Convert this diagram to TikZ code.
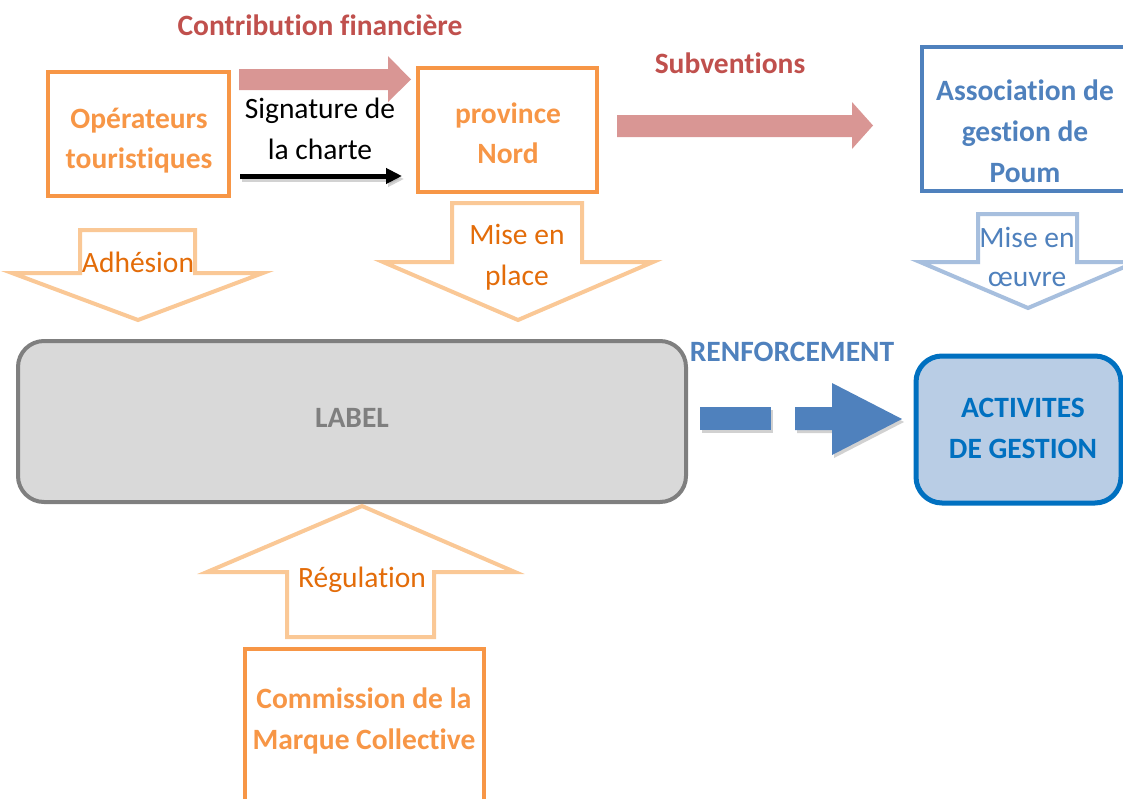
\documentclass[tikz,border=0pt]{standalone}
\usepackage{fontspec}
\setmainfont{Carlito}[Ligatures=NoCommon]
\usetikzlibrary{arrows.meta}
\definecolor{orgbox}{HTML}{F79646}
\definecolor{orglight}{HTML}{FAC896}
\definecolor{orgtext}{HTML}{E36C09}
\definecolor{pinkarr}{HTML}{D99694}
\definecolor{redtext}{HTML}{C0504D}
\definecolor{bluetext}{HTML}{4F81BD}
\definecolor{bluelight}{HTML}{A7BFDE}
\definecolor{darkblue}{HTML}{0070C0}
\definecolor{actfill}{HTML}{B9CDE5}
\definecolor{labfill}{HTML}{D9D9D9}
\definecolor{labline}{HTML}{7F7F7F}
\begin{document}
\begin{tikzpicture}[x=1pt,y=-1pt,
  txt/.style={font=\fontsize{29.5}{34}\selectfont, inner sep=0pt, anchor=base},
  btxt/.style={txt, font=\fontsize{29.5}{34}\selectfont\bfseries},
  obox/.style={draw=orgbox, line width=4pt, inner sep=0pt},
  bigarrow/.style={draw=orglight, line width=4pt, line join=miter, fill=white},
  pinkarrow/.style={fill=pinkarr, draw=none},
  bluearrow/.style={fill=bluetext, draw=none},
  shadowed/.style={fill=black, opacity=0.18, draw=none}
]
\useasboundingbox (0,0) rectangle (1123,798);
\clip (0,0) rectangle (1123,798);

% ---- boxes
\node[obox, minimum width=181pt, minimum height=124pt] (op) at (138.5,134) {};
\node[obox, minimum width=179pt, minimum height=124pt] (prov) at (507.5,130) {};
\node[draw=bluetext, line width=4pt, inner sep=0pt, minimum width=230pt, minimum height=144pt] (assoc) at (1037,119) {};
\node[draw=labline, fill=labfill, line width=4pt, rounded corners=26pt, inner sep=0pt, minimum width=668pt, minimum height=161pt] (label) at (352,421.5) {};
\node[draw=darkblue, fill=actfill, line width=5pt, rounded corners=26pt, inner sep=0pt, minimum width=205pt, minimum height=147pt] (act) at (1018.5,429.5) {};
\node[obox, minimum width=239pt, minimum height=200pt] (comm) at (364.5,749) {};

% ---- top arrows
\coordinate (p1s) at (239,79.5);
\draw[pinkarrow] (p1s) ++(0,-10.5) -- (388,69) -- (388,56) -- (411,79.5) -- (388,102) -- (388,90) -- (239,90) -- cycle;
\coordinate (bks) at (240,176);
\coordinate (bke) at (402,176);
\draw[line width=5pt, black!35, opacity=0.5, -{Triangle[length=16pt,width=15pt]}] ([shift={(2,3)}]bks) -- ([shift={(2,3)}]bke);
\draw[line width=5pt, -{Triangle[length=16pt,width=15pt]}] (bks) -- (bke);
\draw[pinkarrow] (617,115) -- (852,115) -- (852,102) -- (873,125.5) -- (852,149) -- (852,137) -- (617,137) -- cycle;

% ---- big hollow arrows
\draw[bigarrow] (80,230) -- (195,230) -- (195,273) -- (263,273) -- (138,320) -- (12,273) -- (80,273) -- cycle;
\draw[bigarrow] (452,203) -- (582,203) -- (582,262) -- (653,262) -- (518,320) -- (383,262) -- (452,262) -- cycle;
\draw[bigarrow, draw=bluelight] (978,214) -- (1077,214) -- (1077,262) -- (1136,262) -- (1028,308) -- (920,262) -- (978,262) -- cycle;
\draw[bigarrow] (287,637) -- (434,637) -- (434,572) -- (515,572) -- (362,506) -- (207,572) -- (287,572) -- cycle;

% ---- dashed block arrow (renforcement)
\begin{scope}[shift={(2,3)}]
\fill[shadowed] (700,407) rectangle (771,430);
\fill[shadowed] (795,407) -- (832,407) -- (832,383) -- (902,419) -- (832,455) -- (832,430) -- (795,430) -- cycle;
\end{scope}
\fill[bluearrow] (700,407) rectangle (771,430);
\fill[bluearrow] (795,407) -- (832,407) -- (832,383) -- (902,419) -- (832,455) -- (832,430) -- (795,430) -- cycle;

% ---- texts
\node[btxt, text=redtext] (t1) at (320,35) {Contribution financière};
\node[txt] (t2) at (320,118) {Signature de};
\node[txt] (t3) at (320,159) {la charte};
\node[btxt, text=orgbox] (t4) at (139,128) {Opérateurs};
\node[btxt, text=orgbox] (t5) at (139,168) {touristiques};
\node[btxt, text=orgbox] (t6) at (508,123) {province};
\node[btxt, text=orgbox] (t7) at (508,163) {Nord};
\node[btxt, text=redtext] (t8) at (730,73) {Subventions};
\node[btxt, text=bluetext] (t9) at (1025,100) {Association de};
\node[btxt, text=bluetext] (t10) at (1025,141) {gestion de};
\node[btxt, text=bluetext] (t11) at (1025,182) {Poum};
\node[txt, text=bluetext] (t12) at (1027,247) {Mise en};
\node[txt, text=bluetext] (t13) at (1027,286) {œuvre};
\node[txt, text=orgtext] (t14) at (138,272) {Adhésion};
\node[txt, text=orgtext] (t15) at (517,244) {Mise en};
\node[txt, text=orgtext] (t16) at (517,285) {place};
\node[btxt, text=labline] (t17) at (352,427) {LABEL};
\node[btxt, text=bluetext] (t18) at (792,361) {RENFORCEMENT};
\node[btxt, text=darkblue] (t19) at (1023,417) {ACTIVITES};
\node[btxt, text=darkblue] (t20) at (1023,458) {DE GESTION};
\node[txt, text=orgtext] (t21) at (362,587) {Régulation};
\node[btxt, text=orgbox] (t22) at (364,708) {Commission de la};
\node[btxt, text=orgbox] (t23) at (364,749) {Marque Collective};
\end{tikzpicture}
\end{document}
